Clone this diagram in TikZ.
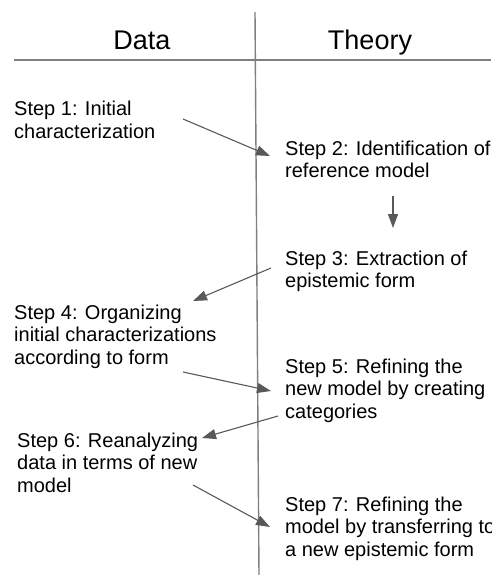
\documentclass[tikz,border=0pt]{standalone}
\usepackage{fontspec}
\setmainfont{Liberation Sans}
\usetikzlibrary{arrows.meta}
\definecolor{rule}{HTML}{7F7F7F}
\definecolor{arr}{HTML}{595959}
\tikzset{
  steptext/.style={anchor=base west, inner sep=0pt, align=left,
    font=\fontsize{20}{22.5}\selectfont, text=black},
  titletext/.style={anchor=base, inner sep=0pt, font=\fontsize{27}{30}\selectfont},
  flow/.style={draw=arr, line width=1.1pt, -{Triangle[length=14pt,width=10pt]}},
  divider/.style={draw=rule, line width=1.4pt}
}
\begin{document}
\begin{tikzpicture}[x=1pt,y=-1pt]
\useasboundingbox (0,0) rectangle (491,575);
% dividers
\coordinate (vtop) at (255,12);
\coordinate (vbot) at (259,575);
\coordinate (hl) at (14,60);
\coordinate (hr) at (491,60);
\draw[divider] (vtop) -- (vbot);
\draw[divider] (hl) -- (hr);
% titles
\node[titletext] (data) at (142,50) {Data};
\node[titletext] (theory) at (370,50) {Theory};
% steps (anchored at the baseline of their last line)
\node[steptext] (s1) at (14,138.5) {Step 1: Initial\\characterization};
\node[steptext] (s2) at (285,177.5) {Step 2: Identification of\\reference model};
\node[steptext] (s3) at (285,287.5) {Step 3: Extraction of\\epistemic form};
\node[steptext] (s4) at (14,364) {Step 4: Organizing\\initial characterizations\\according to form};
\node[steptext] (s5) at (285,418) {Step 5: Refining the\\new model by creating\\categories};
\node[steptext] (s6) at (17,492) {Step 6: Reanalyzing\\data in terms of new\\model};
\node[steptext] (s7) at (285,556) {Step 7: Refining the\\model by transferring to\\a new epistemic form};
% arrow endpoints
\coordinate (a1s) at (183,119); \coordinate (a1e) at (270,156);
\coordinate (a2s) at (393,196); \coordinate (a2e) at (393,228);
\coordinate (a3s) at (271,268); \coordinate (a3e) at (193,301);
\coordinate (a4s) at (183,372); \coordinate (a4e) at (271,391);
\coordinate (a5s) at (278,416); \coordinate (a5e) at (202,438);
\coordinate (a6s) at (193,485); \coordinate (a6e) at (270,527);
\draw[flow] (a1s) -- (a1e);
\draw[flow] (a2s) -- (a2e);
\draw[flow] (a3s) -- (a3e);
\draw[flow] (a4s) -- (a4e);
\draw[flow] (a5s) -- (a5e);
\draw[flow] (a6s) -- (a6e);
\end{tikzpicture}
\end{document}
